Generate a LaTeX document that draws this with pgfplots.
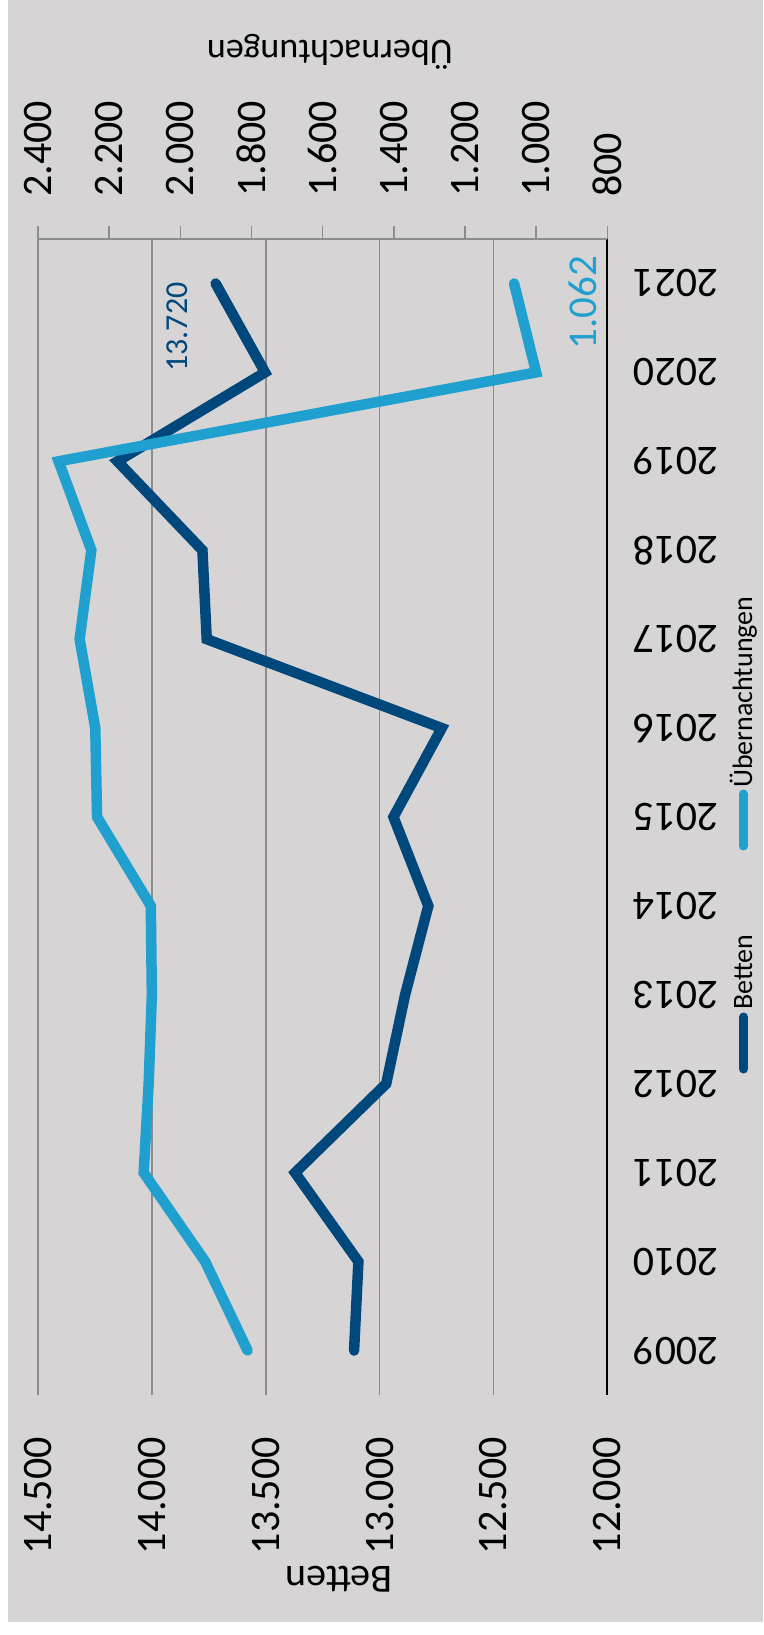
\documentclass[border=0pt]{standalone}
\usepackage{pgfplots}
\pgfplotsset{compat=1.18}
\usepackage{fontspec}
\setmainfont{Carlito}
\definecolor{bgray}{HTML}{D6D4D5}
\definecolor{gridgray}{HTML}{8C8C8C}
\definecolor{dblue}{HTML}{00487B}
\definecolor{lblue}{HTML}{20A0CF}
\newcommand{\fs}[1]{\fontsize{#1}{#1}\selectfont}
\begin{document}
\begin{tikzpicture}
\useasboundingbox (0pt,0pt) rectangle (763pt,-1635pt);
\fill[bgray] (8pt,0pt) rectangle (763pt,-1622pt);
\begin{axis}[
  at={(322.65pt,-817pt)}, anchor=center,
  width=569.3pt, height=1156pt, scale only axis,
  xmin=12000, xmax=14500, x dir=reverse,
  ymin=2008.5, ymax=2021.5,
  clip=false,
  axis line style={draw=none},
  xtick={12000,12500,13000,13500,14000,14500},
  scaled x ticks=false,
  /pgf/number format/.cd, 1000 sep={.}, assume math mode=true, /pgfplots/.cd,
  xmajorgrids, major grid style={color=gridgray, line width=1.6pt},
  xtick style={draw=none}, ytick style={draw=none},
  xticklabel style={yshift=-42pt, rotate=90, anchor=east, inner sep=0pt, font=\fs{42}},
  ytick={2009,2010,2011,2012,2013,2014,2015,2016,2017,2018,2019,2020,2021},
  yticklabels={2009,2010,2011,2012,2013,2014,2015,2016,2017,2018,2019,2020,2021},
  yticklabel pos=right,
  yticklabel style={xshift=69pt, rotate=180, anchor=center, inner sep=0pt, font=\fs{42}},
]
\draw[black, line width=2.4pt] (axis cs:12000,2008.5) -- (axis cs:12000,2021.5);
\addplot[dblue, line width=10.5pt, line cap=round, line join=miter, mark=none] coordinates {
 (13112,2009) (13093,2010) (13371,2011) (12971,2012) (12888,2013) (12786,2014)
 (12939,2015) (12727,2016) (13759,2017) (13778,2018) (14151,2019) (13503,2020) (13720,2021)};
\node[xshift=-38pt, yshift=-43.5pt, rotate=90, dblue, font=\fs{32}, inner sep=0pt] at (axis cs:13720,2021) {13.720};
\end{axis}
\begin{axis}[
  at={(322.65pt,-817pt)}, anchor=center,
  width=569.3pt, height=1156pt, scale only axis,
  xmin=800, xmax=2400, x dir=reverse,
  ymin=2008.5, ymax=2021.5,
  clip=false,
  axis x line*=top, axis y line=none,
  x axis line style={color=gridgray, line width=1.6pt, -},
  xtick={800,1000,1200,1400,1600,1800,2000,2200,2400},
  scaled x ticks=false,
  /pgf/number format/.cd, 1000 sep={.}, assume math mode=true, /pgfplots/.cd,
  tick align=outside, major tick length=13pt,
  xtick style={color=gridgray, line width=1.6pt},
  ytick=\empty,
  xticklabel style={yshift=29pt, rotate=90, anchor=west, inner sep=0pt, font=\fs{42}},
]
\addplot[lblue, line width=10.5pt, line cap=round, line join=miter, mark=none] coordinates {
 (1811,2009) (1930,2010) (2103,2011) (2089,2012) (2080,2013) (2083,2014)
 (2234,2015) (2239,2016) (2283,2017) (2250,2018) (2342,2019) (1000,2020) (1062,2021)};
\node[xshift=68.7pt, yshift=-19pt, rotate=90, lblue, font=\fs{41}, inner sep=0pt] at (axis cs:1062,2021) {1.062};
\end{axis}
% axis titles
\node[rotate=180, font=\fs{40}, inner sep=0pt] at (339pt,-1579pt) {Betten};
\node[rotate=180, font=\fs{36}, inner sep=0pt] at (330pt,-52pt) {Übernachtungen};
% legend
\draw[dblue, line width=9pt, line cap=round] (743.5pt,-1017pt) -- (743.5pt,-1069pt);
\node[rotate=90, anchor=base west, font=\fs{28}, inner sep=0pt] at (752pt,-1010pt) {Betten};
\draw[lblue, line width=9pt, line cap=round] (743.5pt,-794pt) -- (743.5pt,-846pt);
\node[rotate=90, anchor=base west, font=\fs{28}, inner sep=0pt] at (752pt,-788pt) {Übernachtungen};
\end{tikzpicture}
\end{document}
